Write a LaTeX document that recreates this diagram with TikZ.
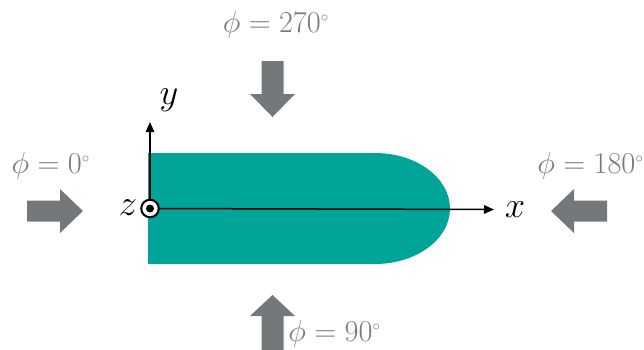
\documentclass[tikz,border=0pt]{standalone}
\usepackage{amsmath,amssymb}
\usepackage{xcolor}
\usepackage{tikz}
\usetikzlibrary{arrows.meta}

\definecolor{hullteal}{RGB}{0,164,153}
\definecolor{pushgray}{RGB}{117,120,123}
\definecolor{labelgray}{RGB}{120,122,125}

\tikzset{
  axis/.style={line width=0.3mm,-{Triangle[length=2mm,width=1.7mm]}},
  push/.style={fill=pushgray},
  anglelabel/.style={text=labelgray,inner sep=0pt,font=\fontsize{16.5}{19}\selectfont},
  axislabel/.style={inner sep=0pt,font=\fontsize{21}{24}\selectfont},
}
\newcommand{\dg}{^{\scriptscriptstyle\circ}}

\begin{document}
\begin{tikzpicture}[x=0.2mm,y=-0.2mm]
\useasboundingbox (0,0) rectangle (644,349);
% body
\fill[hullteal] (148,153) -- (375,153) arc[start angle=-90,end angle=90,x radius=75,y radius=55.5] -- (148,264) -- cycle;
% axes
\coordinate (O) at (150,208.5);
\coordinate (xtip) at (494,209.5);
\coordinate (ytip) at (150,122);
\draw[axis] (O) -- (xtip);
\draw[axis] (O) -- (ytip);
\node[axislabel] (xlab) at (515,210) {$x$};
\node[axislabel] (ylab) at (169,100) {$y$};
\node[axislabel] (zlab) at (128,208) {$z$};
\node[circle,draw,line width=0.4mm,fill=white,minimum size=3.5mm,inner sep=0pt] (zdot) at (O) {};
\fill (zdot.center) circle[radius=4];
% incoming directions
\fill[push] (27,200.5) -- (60,200.5) -- (60,189) -- (83,211) -- (60,233) -- (60,221.5) -- (27,221.5) -- cycle;
\fill[push] (607,200.5) -- (574,200.5) -- (574,189) -- (551,211) -- (574,233) -- (574,221.5) -- (607,221.5) -- cycle;
\fill[push] (261.5,61) -- (283.5,61) -- (283.5,94) -- (295,94) -- (272.5,117) -- (250,94) -- (261.5,94) -- cycle;
\fill[push] (272.5,295) -- (295,316) -- (283.5,316) -- (283.5,352) -- (261.5,352) -- (261.5,316) -- (250,316) -- cycle;
\node[anglelabel] (phi270) at (276,25) {$\phi = 270\dg$};
\node[anglelabel] (phi0) at (51,166) {$\phi = 0\dg$};
\node[anglelabel,anchor=west] (phi180) at (537,166) {$\phi = 180\dg$};
\node[anglelabel,anchor=west] (phi90) at (288,334) {$\phi = 90\dg$};
\end{tikzpicture}
\end{document}
